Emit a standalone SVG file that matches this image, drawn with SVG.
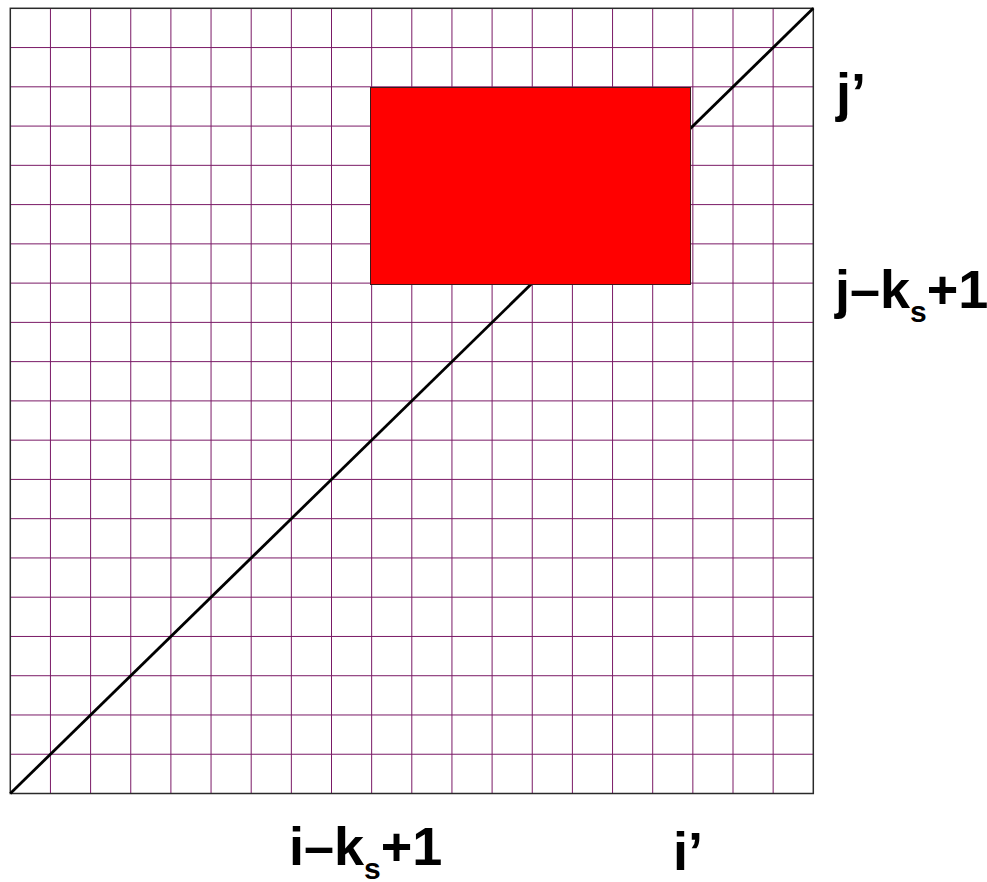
<svg xmlns="http://www.w3.org/2000/svg" width="987" height="882" viewBox="0 0 987 882">
<style>
.g{stroke:#7a1a66;stroke-width:1;fill:none}
.lbl{font-family:"Liberation Sans",Arial,sans-serif;font-weight:bold;font-size:54px;fill:#000}
.sub{font-size:30px}
</style>
<rect width="987" height="882" fill="#fff"/>
<g id="grid" class="g">
<path d="M50.45 8.3V793.5M90.6 8.3V793.5M130.75 8.3V793.5M170.9 8.3V793.5M211.05 8.3V793.5M251.2 8.3V793.5M291.35 8.3V793.5M331.5 8.3V793.5M371.65 8.3V793.5M411.8 8.3V793.5M451.95 8.3V793.5M492.1 8.3V793.5M532.25 8.3V793.5M572.4 8.3V793.5M612.55 8.3V793.5M652.7 8.3V793.5M692.85 8.3V793.5M733 8.3V793.5M773.15 8.3V793.5"/>
<path d="M10.3 47.56H813.3M10.3 86.82H813.3M10.3 126.08H813.3M10.3 165.34H813.3M10.3 204.6H813.3M10.3 243.86H813.3M10.3 283.12H813.3M10.3 322.38H813.3M10.3 361.64H813.3M10.3 400.9H813.3M10.3 440.16H813.3M10.3 479.42H813.3M10.3 518.68H813.3M10.3 557.94H813.3M10.3 597.2H813.3M10.3 636.46H813.3M10.3 675.72H813.3M10.3 714.98H813.3M10.3 754.24H813.3"/>
<rect x="10.3" y="8.3" width="803" height="785.2" stroke="#2a2a2a" stroke-width="1.5"/>
</g>
<g id="connectors">
<line x1="10.3" y1="793.5" x2="813.3" y2="8.3" stroke="#000" stroke-width="2.8"/>
</g>
<g id="block">
<rect x="370.5" y="87.5" width="320" height="197" fill="#ff0000" stroke="#3a1a1a" stroke-width="1"/>
</g>
<g id="label-jprime"><text class="lbl" x="836" y="111">j’</text></g>
<g id="label-jks"><text class="lbl" x="835" y="308">j–k<tspan class="sub" dy="14">s</tspan><tspan dy="-14">+1</tspan></text></g>
<g id="label-iks"><text class="lbl" x="289" y="865">i–k<tspan class="sub" dy="14">s</tspan><tspan dy="-14">+1</tspan></text></g>
<g id="label-iprime"><text class="lbl" x="673" y="870">i’</text></g>
</svg>
